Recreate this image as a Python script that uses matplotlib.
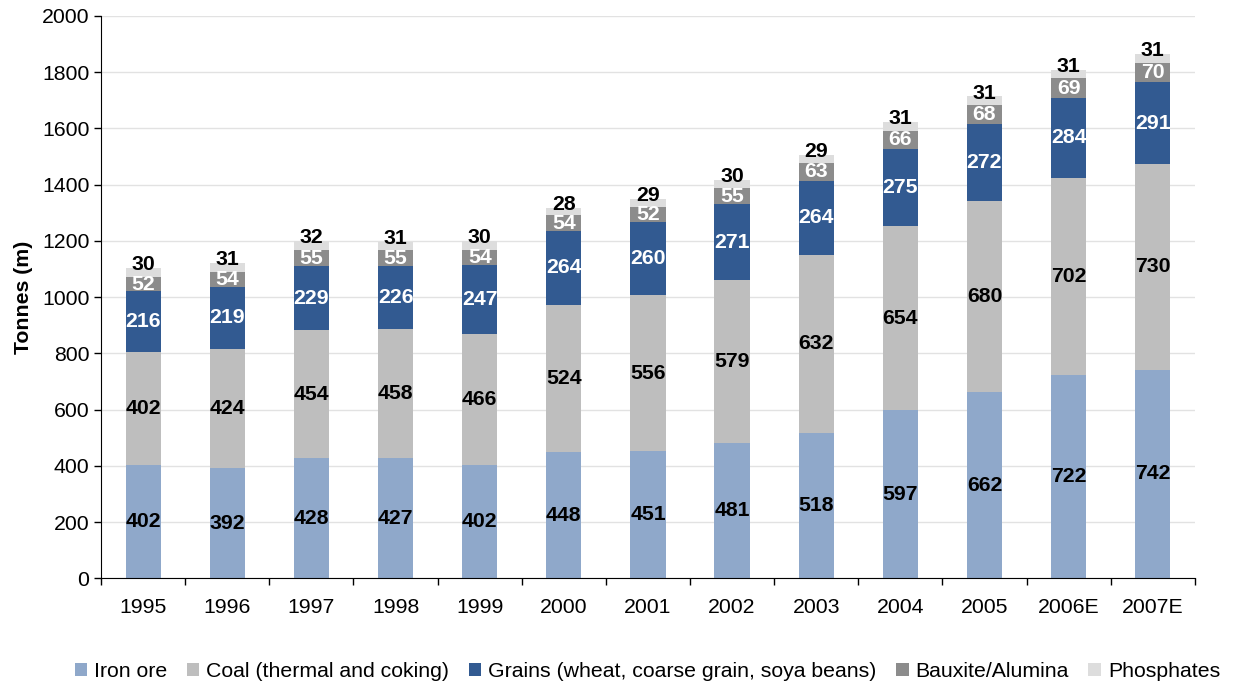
import matplotlib.pyplot as plt
import numpy as np

plt.rcParams['font.family'] = ['Liberation Sans', 'DejaVu Sans']

years = ['1995', '1996', '1997', '1998', '1999', '2000', '2001', '2002',
         '2003', '2004', '2005', '2006E', '2007E']
iron_ore = [402, 392, 428, 427, 402, 448, 451, 481, 518, 597, 662, 722, 742]
coal = [402, 424, 454, 458, 466, 524, 556, 579, 632, 654, 680, 702, 730]
grains = [216, 219, 229, 226, 247, 264, 260, 271, 264, 275, 272, 284, 291]
bauxite = [52, 54, 55, 55, 54, 54, 52, 55, 63, 66, 68, 69, 70]
phosphates = [30, 31, 32, 31, 30, 28, 29, 30, 29, 31, 31, 31, 31]

series = [
    ('Iron ore', iron_ore, '#8FA8CA', 'black'),
    ('Coal (thermal and coking)', coal, '#BEBEBE', 'black'),
    ('Grains (wheat, coarse grain, soya beans)', grains, '#325A91', 'white'),
    ('Bauxite/Alumina', bauxite, '#8C8C8C', 'white'),
    ('Phosphates', phosphates, '#DDDDDD', 'black'),
]

fs = 15.3

fig = plt.figure(figsize=(12.33, 6.86), dpi=100)
ax = fig.add_axes([0.082, 0.157, 0.887, 0.82])

x = np.arange(len(years))
bottom = np.zeros(len(years))
for i, (name, vals, color, tcolor) in enumerate(series):
    vals = np.array(vals, dtype=float)
    ax.bar(x, vals, 0.42, bottom=bottom, color=color, label=name, zorder=2)
    for xi, b, v in zip(x, bottom, vals):
        if i == 4:
            # phosphates label sits on top of the bar
            ax.text(xi, b + v + 12, f'{int(v)}', ha='center', va='center',
                    fontsize=fs, fontweight='bold', color=tcolor, zorder=3)
        else:
            ax.text(xi, b + v / 2, f'{int(v)}', ha='center', va='center',
                    fontsize=fs, fontweight='bold', color=tcolor, zorder=3)
    bottom += vals

ax.set_ylim(0, 2000)
ax.set_xlim(-0.5, len(years) - 0.5)
ax.set_yticks(np.arange(0, 2001, 200))
ax.yaxis.grid(True, color='#E2E2E2', linewidth=1, zorder=0)
ax.set_axisbelow(True)
ax.set_xticks(x)
ax.set_xticklabels(years)
ax.set_xticks(np.arange(-0.5, len(years)), minor=True)
ax.tick_params(axis='x', which='major', length=0, pad=14, labelsize=fs)
ax.tick_params(axis='x', which='minor', length=5, width=1, direction='out')
ax.tick_params(axis='y', length=5, width=1, labelsize=fs)
ax.spines['top'].set_visible(False)
ax.spines['right'].set_visible(False)
ax.set_ylabel('Tonnes (m)', fontsize=fs, fontweight='bold', labelpad=6)

fig.legend(loc='center', bbox_to_anchor=(0.525, 0.021), ncol=5, frameon=False,
           fontsize=fs, handlelength=0.6, handleheight=0.6, handletextpad=0.33,
           columnspacing=0.9)

fig.savefig('out.png', dpi=100)
